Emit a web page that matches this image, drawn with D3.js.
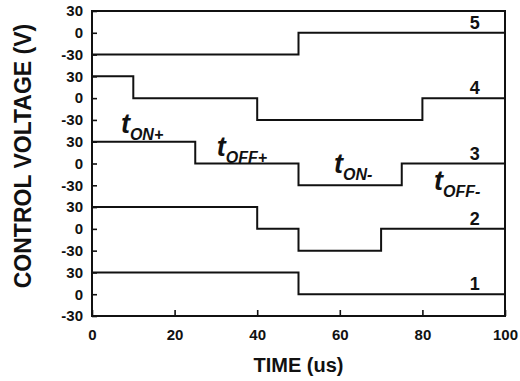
<!DOCTYPE html>
<html>
<head>
<meta charset="utf-8">
<script src="https://cdn.jsdelivr.net/npm/d3@7"></script>
<style>
  body { margin: 0; background: #fff; }
  svg text { font-family: "Liberation Sans", Arial, sans-serif; font-weight: bold; fill: #111; }
</style>
</head>
<body>
<svg id="chart" width="520" height="381"></svg>
<script>
// step waveforms: breakpoint times (us) and voltage from that time on (V)
const channelNames = ['1', '2', '3', '4', '5']
const times1 = [0, 50, 100]
const volts1 = [30, 0, 0]
const times2 = [0, 40, 50, 70, 100]
const volts2 = [30, 0, -30, 0, 0]
const times3 = [0, 25, 50, 75, 100]
const volts3 = [30, 0, -30, 0, 0]
const times4 = [0, 10, 40, 80, 100]
const volts4 = [30, 0, -30, 0, 0]
const times5 = [0, 50, 100]
const volts5 = [-30, 0, 0]

const xTicks = [0, 20, 40, 60, 80, 100]
const panelTicks = [-30, 0, 30]

// timing labels on channel 3: [main, subscript, time, volts]
const annotations = [
  ['t', 'ON+', 7.0, 42],
  ['t', 'OFF+', 30.2, 11],
  ['t', 'ON-', 58.6, -12.5],
  ['t', 'OFF-', 82.8, -37]
]

const waves = [[times1, volts1], [times2, volts2], [times3, volts3], [times4, volts4], [times5, volts5]]
const panelStep = 90  // each channel sits 90 V above the previous one

const svg = d3.select('#chart')
const margin = { top: 11, right: 15, bottom: 65, left: 92 }
const width = +svg.attr('width') - margin.left - margin.right
const height = +svg.attr('height') - margin.top - margin.bottom

const x = d3.scaleLinear().domain([0, 100]).range([0, width])
const y = d3.scaleLinear().domain([-30, 30 + panelStep * 4]).range([height, 0])

const g = svg.append('g').attr('transform', `translate(${margin.left},${margin.top})`)

// y axis: 3 ticks per channel
const yTickValues = d3.range(5).flatMap(i => panelTicks.map(v => v + i * panelStep))
const yAxis = d3.axisLeft(y)
  .tickValues(yTickValues)
  .tickFormat(v => ((v + 30) % panelStep) - 30)
  .tickSizeInner(-5)
  .tickSizeOuter(0)
  .tickPadding(9)

const xAxis = d3.axisBottom(x)
  .tickValues(xTicks)
  .tickSizeInner(-6)
  .tickSizeOuter(0)
  .tickPadding(13)

const yg = g.append('g').call(yAxis)
const xg = g.append('g').attr('transform', `translate(0,${height})`).call(xAxis)

;[yg, xg].forEach(a => {
  a.select('.domain').remove()
  a.selectAll('line').attr('stroke', '#111').attr('stroke-width', 1.6)
  a.selectAll('text').style('font-size', '15px').style('font-weight', 'bold')
})

// frame
g.append('rect')
  .attr('width', width)
  .attr('height', height)
  .attr('fill', 'none')
  .attr('stroke', '#111')
  .attr('stroke-width', 2)

// waveforms
const line = d3.line()
  .x(d => x(d[0]))
  .y(d => y(d[1]))
  .curve(d3.curveStepAfter)

waves.forEach(([ts, vs], i) => {
  const pts = ts.map((t, j) => [t, vs[j] + i * panelStep])
  g.append('path')
    .datum(pts)
    .attr('d', line)
    .attr('fill', 'none')
    .attr('stroke', '#111')
    .attr('stroke-width', 2)

  g.append('text')
    .attr('x', x(92.7))
    .attr('y', y(i * panelStep) - 4)
    .attr('text-anchor', 'middle')
    .style('font-size', '18px')
    .text(channelNames[i])
})

// t_ON / t_OFF labels
annotations.forEach(([main, sub, t, v]) => {
  const txt = g.append('text')
    .attr('x', x(t))
    .attr('y', y(v + 2 * panelStep))
    .style('font-style', 'italic')
  txt.append('tspan').style('font-size', '27px').text(main)
  txt.append('tspan').attr('dy', 7).style('font-size', '16px').text(sub)
})

// axis titles
svg.append('text')
  .attr('x', margin.left + width / 2)
  .attr('y', 372)
  .attr('text-anchor', 'middle')
  .style('font-size', '20px')
  .text('TIME (us)')

svg.append('text')
  .attr('transform', 'translate(31,156) rotate(-90)')
  .attr('text-anchor', 'middle')
  .style('font-size', '23px')
  .text('CONTROL VOLTAGE (V)')
</script>
</body>
</html>
